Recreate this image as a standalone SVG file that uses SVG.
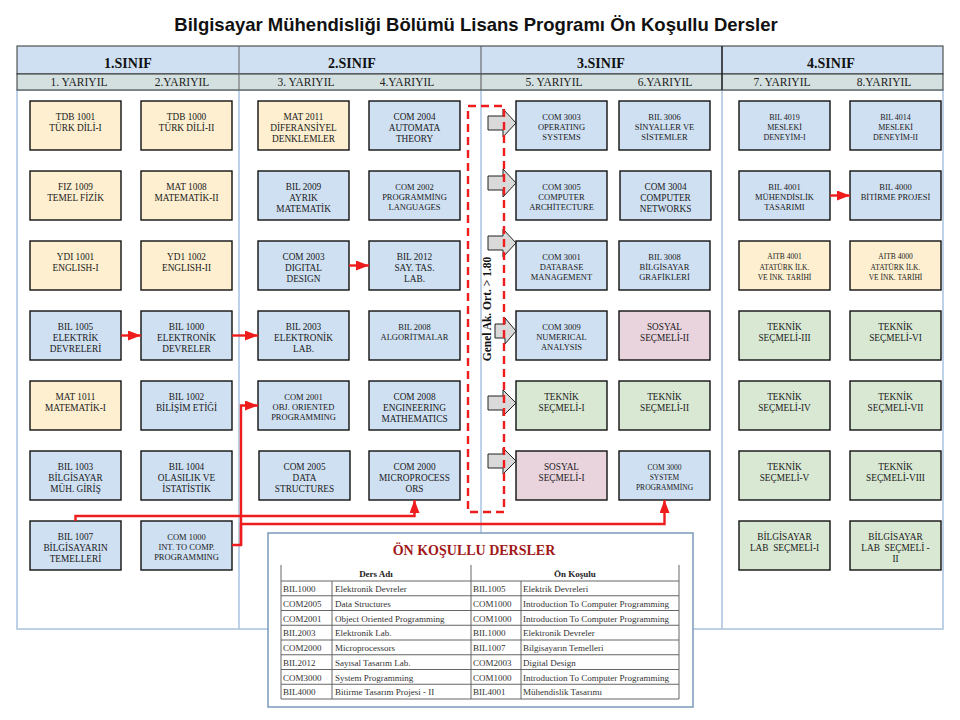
<svg xmlns="http://www.w3.org/2000/svg" width="960" height="720" viewBox="0 0 960 720">
<style>
.ttl{font-family:"Liberation Sans",Arial,sans-serif;font-weight:bold;font-size:18.5px;fill:#111;text-anchor:middle}
.hs{font-family:"Liberation Serif","Times New Roman",serif;font-weight:bold;font-size:14px;fill:#111;text-anchor:middle}
.hy{font-family:"Liberation Serif","Times New Roman",serif;font-size:11.5px;fill:#222;text-anchor:middle}
.n rect{stroke:#111;stroke-width:1.4}
.y{fill:#fdefd0}.b{fill:#cfe0f2}.g{fill:#d8e8d3}.p{fill:#e9d4de}
.n text{font-family:"Liberation Serif","Times New Roman",serif;fill:#1a1a1a;text-anchor:middle;font-size:9.3px}
.n text.f85{font-size:8.5px}.n text.f80{font-size:8px}.n text.f75{font-size:7.5px}
.con path{fill:none;stroke:#ee1c1c;stroke-width:2.4}
.blk{fill:#d9d9d9;stroke:#222;stroke-width:1}
.tb{font-family:"Liberation Serif","Times New Roman",serif;font-size:9px;fill:#333}
.tbh{font-family:"Liberation Serif","Times New Roman",serif;font-size:9px;font-weight:bold;fill:#222;text-anchor:middle}
.tl{stroke:#666;stroke-width:1;fill:none}
</style>
<defs>
<marker id="ah" markerUnits="userSpaceOnUse" markerWidth="13" markerHeight="10" refX="13" refY="5" orient="auto">
<path d="M0,0 L13,5 L0,10 z" fill="#ee1c1c"/>
</marker>
</defs>
<rect width="960" height="720" fill="#fff"/>
<text class="ttl" x="476" y="31">Bilgisayar Mühendisliği Bölümü Lisans Programı Ön Koşullu Dersler</text>

<g id="panels" fill="none" stroke="#a8c2df" stroke-width="1.5">
<rect x="17" y="90" width="926" height="539"/>
<line x1="239" y1="90" x2="239" y2="629"/>
<line x1="481" y1="90" x2="481" y2="629"/>
<line x1="722" y1="90" x2="722" y2="629"/>
</g>

<g id="header">
<rect x="17" y="46" width="926" height="28" fill="#cfe0f2" stroke="#333" stroke-width="1"/>
<rect x="17" y="74" width="926" height="16" fill="#d4e0e0" stroke="#333" stroke-width="1"/>
<line x1="239" y1="46" x2="239" y2="90" stroke="#666"/>
<line x1="481" y1="46" x2="481" y2="90" stroke="#555"/>
<line x1="722" y1="46" x2="722" y2="90" stroke="#222" stroke-width="1.6"/>
<text class="hs" x="128" y="68">1.SINIF</text>
<text class="hs" x="352" y="68">2.SINIF</text>
<text class="hs" x="601" y="68">3.SINIF</text>
<text class="hs" x="831" y="68">4.SINIF</text>
<text class="hy" x="79" y="86">1. YARIYIL</text>
<text class="hy" x="182" y="86">2.YARIYIL</text>
<text class="hy" x="306" y="86">3. YARIYIL</text>
<text class="hy" x="407" y="86">4.YARIYIL</text>
<text class="hy" x="554" y="86">5. YARIYIL</text>
<text class="hy" x="665" y="86">6.YARIYIL</text>
<text class="hy" x="782" y="86">7. YARIYIL</text>
<text class="hy" x="884" y="86">8.YARIYIL</text>
</g>

<g id="nodes">
<!-- column 1 -->
<g id="tdb1001" class="n"><rect class="y" x="30" y="101" width="91" height="49"/><text x="75.5" y="120">TDB 1001<tspan x="75.5" dy="11">TÜRK DİLİ-I</tspan></text></g>
<g id="fiz1009" class="n"><rect class="y" x="30" y="171" width="91" height="49"/><text x="75.5" y="190">FIZ 1009<tspan x="75.5" dy="11">TEMEL FİZİK</tspan></text></g>
<g id="ydi1001" class="n"><rect class="y" x="30" y="241" width="91" height="49"/><text x="75.5" y="260">YDI 1001<tspan x="75.5" dy="11">ENGLISH-I</tspan></text></g>
<g id="bil1005" class="n"><rect class="b" x="30" y="311" width="91" height="49"/><text x="75.5" y="330">BIL 1005<tspan x="75.5" dy="11">ELEKTRİK</tspan><tspan x="75.5" dy="11">DEVRELERİ</tspan></text></g>
<g id="mat1011" class="n"><rect class="y" x="30" y="381" width="91" height="49"/><text x="75.5" y="400">MAT 1011<tspan x="75.5" dy="11">MATEMATİK-I</tspan></text></g>
<g id="bil1003" class="n"><rect class="b" x="30" y="451" width="91" height="49"/><text x="75.5" y="470">BIL 1003<tspan x="75.5" dy="11">BİLGİSAYAR</tspan><tspan x="75.5" dy="11">MÜH. GİRİŞ</tspan></text></g>
<g id="bil1007" class="n"><rect class="b" x="30" y="521" width="91" height="49"/><text x="75.5" y="540">BIL 1007<tspan x="75.5" dy="11">BİLGİSAYARIN</tspan><tspan x="75.5" dy="11">TEMELLERİ</tspan></text></g>
<!-- column 2 -->
<g id="tdb1000" class="n"><rect class="y" x="141" y="101" width="91" height="49"/><text x="186.5" y="120">TDB 1000<tspan x="186.5" dy="11">TÜRK DİLİ-II</tspan></text></g>
<g id="mat1008" class="n"><rect class="y" x="141" y="171" width="91" height="49"/><text x="186.5" y="190">MAT 1008<tspan x="186.5" dy="11">MATEMATİK-II</tspan></text></g>
<g id="yd11002" class="n"><rect class="y" x="141" y="241" width="91" height="49"/><text x="186.5" y="260">YD1 1002<tspan x="186.5" dy="11">ENGLISH-II</tspan></text></g>
<g id="bil1000" class="n"><rect class="b" x="141" y="311" width="91" height="49"/><text x="186.5" y="330">BIL 1000<tspan x="186.5" dy="11">ELEKTRONİK</tspan><tspan x="186.5" dy="11">DEVRELER</tspan></text></g>
<g id="bil1002" class="n"><rect class="b" x="141" y="381" width="91" height="49"/><text x="186.5" y="400">BIL 1002<tspan x="186.5" dy="11">BİLİŞİM ETİĞİ</tspan></text></g>
<g id="bil1004" class="n"><rect class="b" x="141" y="451" width="91" height="49"/><text x="186.5" y="470">BIL 1004<tspan x="186.5" dy="11">OLASILIK VE</tspan><tspan x="186.5" dy="11">İSTATİSTİK</tspan></text></g>
<g id="com1000" class="n"><rect class="b" x="141" y="521" width="91" height="49"/><text class="f85" x="186.5" y="539.5">COM 1000<tspan x="186.5" dy="10.2">INT. TO  COMP.</tspan><tspan x="186.5" dy="10.2">PROGRAMMING</tspan></text></g>
<!-- column 3 -->
<g id="mat2011" class="n"><rect class="y" x="258" y="101" width="91" height="49"/><text x="303.5" y="120">MAT 2011<tspan x="303.5" dy="11">DİFERANSİYEL</tspan><tspan x="303.5" dy="11">DENKLEMLER</tspan></text></g>
<g id="bil2009" class="n"><rect class="b" x="258" y="171" width="91" height="49"/><text x="303.5" y="190">BIL 2009<tspan x="303.5" dy="11">AYRIK</tspan><tspan x="303.5" dy="11">MATEMATİK</tspan></text></g>
<g id="com2003" class="n"><rect class="b" x="258" y="241" width="91" height="49"/><text x="303.5" y="260">COM 2003<tspan x="303.5" dy="11">DIGITAL</tspan><tspan x="303.5" dy="11">DESIGN</tspan></text></g>
<g id="bil2003" class="n"><rect class="b" x="258" y="311" width="91" height="49"/><text x="303.5" y="330">BIL 2003<tspan x="303.5" dy="11">ELEKTRONİK</tspan><tspan x="303.5" dy="11">LAB.</tspan></text></g>
<g id="com2001" class="n"><rect class="b" x="258" y="381" width="91" height="49"/><text class="f85" x="303.5" y="399.5">COM 2001<tspan x="303.5" dy="10.2">OBJ. ORIENTED</tspan><tspan x="303.5" dy="10.2">PROGRAMMING</tspan></text></g>
<g id="com2005" class="n"><rect class="b" x="259" y="451" width="91" height="49"/><text x="304.5" y="470">COM 2005<tspan x="304.5" dy="11">DATA</tspan><tspan x="304.5" dy="11">STRUCTURES</tspan></text></g>
<!-- column 4 -->
<g id="com2004" class="n"><rect class="b" x="369" y="101" width="91" height="49"/><text x="414.5" y="120">COM 2004<tspan x="414.5" dy="11">AUTOMATA</tspan><tspan x="414.5" dy="11">THEORY</tspan></text></g>
<g id="com2002" class="n"><rect class="b" x="369" y="171" width="91" height="49"/><text class="f85" x="414.5" y="189.5">COM 2002<tspan x="414.5" dy="10.2">PROGRAMMİNG</tspan><tspan x="414.5" dy="10.2">LANGUAGES</tspan></text></g>
<g id="bil2012" class="n"><rect class="b" x="369" y="241" width="91" height="49"/><text x="414.5" y="260">BIL 2012<tspan x="414.5" dy="11">SAY. TAS.</tspan><tspan x="414.5" dy="11">LAB.</tspan></text></g>
<g id="bil2008" class="n"><rect class="b" x="369" y="311" width="91" height="49"/><text class="f85" x="414.5" y="329.5">BIL 2008<tspan x="414.5" dy="10.2">ALGORİTMALAR</tspan></text></g>
<g id="com2008" class="n"><rect class="b" x="369" y="381" width="91" height="49"/><text x="414.5" y="400">COM 2008<tspan x="414.5" dy="11">ENGINEERING</tspan><tspan x="414.5" dy="11">MATHEMATICS</tspan></text></g>
<g id="com2000" class="n"><rect class="b" x="369" y="451" width="91" height="49"/><text x="414.5" y="470">COM 2000<tspan x="414.5" dy="11">MICROPROCESS</tspan><tspan x="414.5" dy="11">ORS</tspan></text></g>
<!-- column 5 -->
<g id="com3003" class="n"><rect class="b" x="516" y="101" width="91" height="49"/><text class="f85" x="561.5" y="119.5">COM 3003<tspan x="561.5" dy="10.2">OPERATING</tspan><tspan x="561.5" dy="10.2">SYSTEMS</tspan></text></g>
<g id="com3005" class="n"><rect class="b" x="516" y="171" width="91" height="49"/><text class="f85" x="561.5" y="189.5">COM 3005<tspan x="561.5" dy="10.2">COMPUTER</tspan><tspan x="561.5" dy="10.2">ARCHİTECTURE</tspan></text></g>
<g id="com3001" class="n"><rect class="b" x="516" y="241" width="91" height="49"/><text class="f85" x="561.5" y="259.5">COM 3001<tspan x="561.5" dy="10.2">DATABASE</tspan><tspan x="561.5" dy="10.2">MANAGEMENT</tspan></text></g>
<g id="com3009" class="n"><rect class="b" x="516" y="311" width="91" height="49"/><text class="f85" x="561.5" y="329.5">COM 3009<tspan x="561.5" dy="10.2">NUMERICAL</tspan><tspan x="561.5" dy="10.2">ANALYSIS</tspan></text></g>
<g id="teknik1" class="n"><rect class="g" x="516" y="381" width="91" height="49"/><text x="561.5" y="400">TEKNİK<tspan x="561.5" dy="11">SEÇMELİ-I</tspan></text></g>
<g id="sosyal1" class="n"><rect class="p" x="516" y="451" width="91" height="49"/><text x="561.5" y="470">SOSYAL<tspan x="561.5" dy="11">SEÇMELİ-I</tspan></text></g>
<!-- column 6 -->
<g id="bil3006" class="n"><rect class="b" x="619" y="101" width="91" height="49"/><text class="f85" x="664.5" y="119.5">BIL 3006<tspan x="664.5" dy="10.2">SİNYALLER VE</tspan><tspan x="664.5" dy="10.2">SİSTEMLER</tspan></text></g>
<g id="com3004" class="n"><rect class="b" x="620" y="171" width="91" height="49"/><text x="665.5" y="190">COM 3004<tspan x="665.5" dy="11">COMPUTER</tspan><tspan x="665.5" dy="11">NETWORKS</tspan></text></g>
<g id="bil3008" class="n"><rect class="b" x="619" y="241" width="91" height="49"/><text class="f85" x="664.5" y="259.5">BIL 3008<tspan x="664.5" dy="10.2">BİLGİSAYAR</tspan><tspan x="664.5" dy="10.2">GRAFİKLERİ</tspan></text></g>
<g id="sosyal2" class="n"><rect class="p" x="619" y="311" width="91" height="49"/><text x="664.5" y="330">SOSYAL<tspan x="664.5" dy="11">SEÇMELİ-II</tspan></text></g>
<g id="teknik2" class="n"><rect class="g" x="619" y="381" width="91" height="49"/><text x="664.5" y="400">TEKNİK<tspan x="664.5" dy="11">SEÇMELİ-II</tspan></text></g>
<g id="com3000" class="n"><rect class="b" x="619" y="451" width="91" height="49"/><text class="f75" x="664.5" y="469.5">COM 3000<tspan x="664.5" dy="10">SYSTEM</tspan><tspan x="664.5" dy="10">PROGRAMMİNG</tspan></text></g>
<!-- column 7 -->
<g id="bil4019" class="n"><rect class="b" x="739" y="101" width="91" height="49"/><text class="f80" x="784.5" y="119.5">BIL 4019<tspan x="784.5" dy="10">MESLEKİ</tspan><tspan x="784.5" dy="10">DENEYİM-I</tspan></text></g>
<g id="bil4001" class="n"><rect class="b" x="739" y="171" width="91" height="49"/><text class="f85" x="784.5" y="189.5">BIL 4001<tspan x="784.5" dy="10.2">MÜHENDİSLİK</tspan><tspan x="784.5" dy="10.2">TASARIMI</tspan></text></g>
<g id="aitb4001" class="n"><rect class="y" x="739" y="241" width="91" height="49"/><text class="f75" x="784.5" y="259">AITB 4001<tspan x="784.5" dy="10.5">ATATÜRK İLK.</tspan><tspan x="784.5" dy="10.5">VE İNK. TARİHİ</tspan></text></g>
<g id="teknik3" class="n"><rect class="g" x="739" y="311" width="91" height="49"/><text x="784.5" y="330">TEKNİK<tspan x="784.5" dy="11">SEÇMELİ-III</tspan></text></g>
<g id="teknik4" class="n"><rect class="g" x="739" y="381" width="91" height="49"/><text x="784.5" y="400">TEKNİK<tspan x="784.5" dy="11">SEÇMELİ-IV</tspan></text></g>
<g id="teknik5" class="n"><rect class="g" x="739" y="451" width="91" height="49"/><text x="784.5" y="470">TEKNİK<tspan x="784.5" dy="11">SEÇMELİ-V</tspan></text></g>
<g id="lab1" class="n"><rect class="g" x="739" y="521" width="91" height="49"/><text x="784.5" y="540" style="white-space:pre">BİLGİSAYAR<tspan x="784.5" dy="11">LAB  SEÇMELİ-I</tspan></text></g>
<!-- column 8 -->
<g id="bil4014" class="n"><rect class="b" x="850" y="101" width="91" height="49"/><text class="f80" x="895.5" y="119.5">BIL 4014<tspan x="895.5" dy="10">MESLEKİ</tspan><tspan x="895.5" dy="10">DENEYİM-II</tspan></text></g>
<g id="bil4000" class="n"><rect class="b" x="850" y="171" width="91" height="49"/><text class="f85" x="895.5" y="189.5">BIL 4000<tspan x="895.5" dy="10.2">BİTİRME PROJESİ</tspan></text></g>
<g id="aitb4000" class="n"><rect class="y" x="850" y="241" width="91" height="49"/><text class="f75" x="895.5" y="259">AITB 4000<tspan x="895.5" dy="10.5">ATATÜRK İLK.</tspan><tspan x="895.5" dy="10.5">VE İNK. TARİHİ</tspan></text></g>
<g id="teknik6" class="n"><rect class="g" x="850" y="311" width="91" height="49"/><text x="895.5" y="330">TEKNİK<tspan x="895.5" dy="11">SEÇMELİ-VI</tspan></text></g>
<g id="teknik7" class="n"><rect class="g" x="850" y="381" width="91" height="49"/><text x="895.5" y="400">TEKNİK<tspan x="895.5" dy="11">SEÇMELİ-VII</tspan></text></g>
<g id="teknik8" class="n"><rect class="g" x="850" y="451" width="91" height="49"/><text x="895.5" y="470">TEKNİK<tspan x="895.5" dy="11">SEÇMELİ-VIII</tspan></text></g>
<g id="lab2" class="n"><rect class="g" x="850" y="521" width="91" height="49"/><text x="895.5" y="540" style="white-space:pre">BİLGİSAYAR<tspan x="895.5" dy="11">LAB  SEÇMELİ -</tspan><tspan x="895.5" dy="11">II</tspan></text></g>
</g>

<g id="gpa-arrows">
<path class="blk" d="M488,116 H503 V109 L516,123 L503,137 V130 H488 Z"/>
<path class="blk" d="M488,176 H503 V169 L516,183 L503,197 V190 H488 Z"/>
<path class="blk" d="M488,236 H503 V229 L516,243 L503,257 V250 H488 Z"/>
<path class="blk" d="M495,324 H505 V318 L516,331 L505,344 V338 H495 Z"/>
<path class="blk" d="M488,396 H503 V390 L516,403 L503,416 V410 H488 Z"/>
<path class="blk" d="M488,454 H503 V448 L516,461 L503,474 V468 H488 Z"/>
</g>

<g id="gpa-box">
<rect x="468" y="106" width="36" height="406" fill="none" stroke="#ee1c1c" stroke-width="2.4" stroke-dasharray="8 5"/>
<text transform="translate(491,309) rotate(-90)" x="0" y="0" text-anchor="middle" font-family="'Liberation Serif','Times New Roman',serif" font-weight="bold" font-size="11.5" fill="#111">Genel Ak. Ort. &gt; 1.80</text>
</g>

<g id="connectors" class="con">
<path d="M121,335.5 H141" marker-end="url(#ah)"/>
<path d="M232,335.5 H258" marker-end="url(#ah)"/>
<path d="M349,265.5 H369" marker-end="url(#ah)"/>
<path d="M830,195.5 H850" marker-end="url(#ah)"/>
<path d="M232,545 H241 V405.5 H258" marker-end="url(#ah)"/>
<path d="M241,545 V524 H664.5 V500" marker-end="url(#ah)"/>
<path d="M75.5,521 V516 H414.5 V500" marker-end="url(#ah)"/>
</g>

<g id="prereq-table">
<rect x="268" y="533" width="425" height="174" fill="#fff" stroke="#7a9abb" stroke-width="1.5"/>
<text x="474" y="555" text-anchor="middle" font-family="'Liberation Serif','Times New Roman',serif" font-weight="bold" font-size="14" fill="#a01818">ÖN KOŞULLU DERSLER</text>
<g class="tl">
<line x1="281" y1="565" x2="281" y2="699"/>
<line x1="471" y1="565" x2="471" y2="699"/>
<line x1="679" y1="565" x2="679" y2="699"/>
<line x1="332" y1="581" x2="332" y2="699"/>
<line x1="521" y1="581" x2="521" y2="699"/>
<line x1="281" y1="581" x2="679" y2="581"/>
<line x1="281" y1="595.75" x2="679" y2="595.75"/>
<line x1="281" y1="610.5" x2="679" y2="610.5"/>
<line x1="281" y1="625.25" x2="679" y2="625.25"/>
<line x1="281" y1="640" x2="679" y2="640"/>
<line x1="281" y1="654.75" x2="679" y2="654.75"/>
<line x1="281" y1="669.5" x2="679" y2="669.5"/>
<line x1="281" y1="684.25" x2="679" y2="684.25"/>
<line x1="281" y1="699" x2="679" y2="699"/>
</g>
<text class="tbh" x="376" y="577">Ders Adı</text>
<text class="tbh" x="575" y="577">Ön Koşulu</text>
<g class="tb">
<text x="283" y="592">BIL1000</text><text x="335" y="592">Elektronik Devreler</text><text x="473" y="592">BIL1005</text><text x="523" y="592">Elektrik Devreleri</text>
<text x="283" y="606.75">COM2005</text><text x="335" y="606.75">Data Structures</text><text x="473" y="606.75">COM1000</text><text x="523" y="606.75">Introduction To Computer Programming</text>
<text x="283" y="621.5">COM2001</text><text x="335" y="621.5">Object Oriented Programming</text><text x="473" y="621.5">COM1000</text><text x="523" y="621.5">Introduction To Computer Programming</text>
<text x="283" y="636.25">BIL2003</text><text x="335" y="636.25">Elektronik Lab.</text><text x="473" y="636.25">BIL1000</text><text x="523" y="636.25">Elektronik Devreler</text>
<text x="283" y="651">COM2000</text><text x="335" y="651">Microprocessors</text><text x="473" y="651">BIL1007</text><text x="523" y="651">Bilgisayarın Temelleri</text>
<text x="283" y="665.75">BIL2012</text><text x="335" y="665.75">Sayısal Tasarım Lab.</text><text x="473" y="665.75">COM2003</text><text x="523" y="665.75">Digital Design</text>
<text x="283" y="680.5">COM3000</text><text x="335" y="680.5">System Programming</text><text x="473" y="680.5">COM1000</text><text x="523" y="680.5">Introduction To Computer Programming</text>
<text x="283" y="695.25">BIL4000</text><text x="335" y="695.25">Bitirme Tasarım Projesi - II</text><text x="473" y="695.25">BIL4001</text><text x="523" y="695.25">Mühendislik Tasarımı</text>
</g>
</g>
</svg>
